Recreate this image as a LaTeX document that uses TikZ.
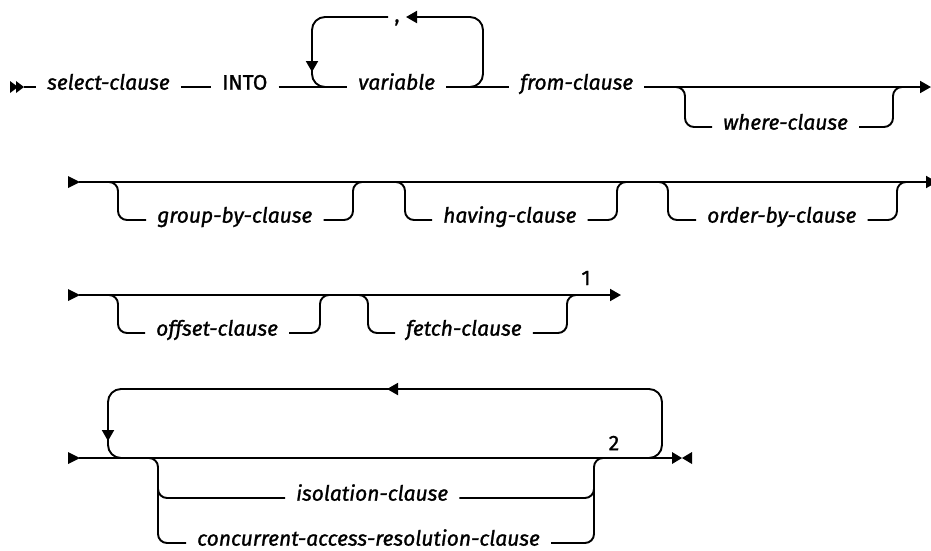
\documentclass[tikz,border=0pt]{standalone}
\usepackage{fontspec}
\setmainfont{Fira Sans}
\newfontfamily\railfont{Fira Sans}[FakeBold=1.2]
\usetikzlibrary{arrows.meta}
\begin{document}
\begin{tikzpicture}[x=1pt,y=-1pt,
  rail/.style={line width=1.9pt, rounded corners=9pt},
  loop/.style={line width=1.9pt, rounded corners=13pt},
  tip/.style={-{Triangle[length=11pt,width=12pt]}},
  lbl/.style={font=\railfont\fontsize{21}{22}\selectfont\itshape, inner xsep=11pt, inner ysep=0pt, anchor=mid west},
  kw/.style={font=\railfont\fontsize{21}{22}\selectfont, inner xsep=11pt, inner ysep=0pt, anchor=mid west},
  note/.style={font=\railfont\fontsize{21}{22}\selectfont, inner sep=0pt}
]
\useasboundingbox (0,0) rectangle (931,550);

% ---------- row 1 ----------
\fill (10,81) -- (18,87) -- (10,93) -- cycle;
\fill (16,81) -- (24,87) -- (16,93) -- cycle;
\coordinate (r1s) at (24,87);
\coordinate (r1e) at (931,87);
\node[lbl] (sel) at (36,87) {select-clause};
\node[kw] (into) at (211,87) {INTO};
\node[lbl] (var) at (347,87) {variable};
\node[lbl] (from) at (509,87) {from-clause};
\node[lbl] (where) at (712,127) {where-clause};
\node[note, anchor=base] (comma) at (397,22) {,};
\draw[rail] (r1s) -- (sel.mid west);
\draw[rail] (sel.mid east) -- (into.mid west);
\draw[rail] (into.mid east) -- (var.mid west);
\draw[rail] (var.mid east) -- (from.mid west);
\draw[rail,tip] (from.mid east) -- (r1e);
% repeat loop
\draw[loop,tip] (465,87) -- (483,87) -- (483,17) -- (406,17);
\draw[loop,tip] (388,17) -- (312,17) -- (312,72);
\draw[loop] (312,66) -- (312,87) -- (330,87);
% optional where
\draw[rail] (675,87) -| (685,127) -- (where.mid west);
\draw[rail] (where.mid east) -| (893,87) -- (903,87);

% ---------- row 2 ----------
\fill (68,176) -- (80,182) -- (68,188) -- cycle;
\coordinate (r2s) at (79,182);
\coordinate (r2e) at (937,182);
\draw[rail,tip] (r2s) -- (r2e);
\node[lbl] (grp) at (146,220) {group-by-clause};
\node[lbl] (hav) at (432,220) {having-clause};
\node[lbl] (ord) at (696,220) {order-by-clause};
\draw[rail] (108,182) -| (118,220) -- (grp.mid west);
\draw[rail] (grp.mid east) -| (353,182) -- (363,182);
\draw[rail] (395,182) -| (405,220) -- (hav.mid west);
\draw[rail] (hav.mid east) -| (617,182) -- (627,182);
\draw[rail] (658,182) -| (668,220) -- (ord.mid west);
\draw[rail] (ord.mid east) -| (897,182) -- (907,182);

% ---------- row 3 ----------
\fill (68,289) -- (80,295) -- (68,301) -- cycle;
\coordinate (r3s) at (79,295);
\coordinate (r3e) at (621,295);
\draw[rail,tip] (r3s) -- (r3e);
\node[lbl] (off) at (145,333) {offset-clause};
\node[lbl] (fet) at (395,333) {fetch-clause};
\draw[rail] (108,295) -| (118,333) -- (off.mid west);
\draw[rail] (off.mid east) -| (320,295) -- (330,295);
\draw[rail] (358,295) -| (368,333) -- (fet.mid west);
\draw[rail] (fet.mid east) -| (567,295) -- (577,295);
\node[note] (n1) at (586,278) {1};

% ---------- row 4 ----------
\fill (68,452) -- (80,458) -- (68,464) -- cycle;
\coordinate (r4s) at (79,458);
\coordinate (r4e) at (672,458);
\draw[rail] (r4s) -- (r4e);
\fill (672,452) -- (682,458) -- (672,464) -- cycle;
\fill (692,452) -- (682,458) -- (692,464) -- cycle;
% repeat loop
\draw[loop,tip] (645,458) -- (662,458) -- (662,389) -- (387,389);
\draw[loop,tip] (390,389) -- (108,389) -- (108,441);
\draw[loop] (108,435) -- (108,458) -- (125,458);
% choice
\node[lbl] (iso) at (285,498) {isolation-clause};
\node[lbl] (conc) at (186,543) {concurrent-access-resolution-clause};
\draw[rail] (148,458) -| (158,543) -- (conc.mid west);
\draw[rail] (158,475) |- (iso.mid west);
\draw[rail] (conc.mid east) -| (594,458) -- (604,458);
\draw[rail] (iso.mid east) -| (594,480);
\node[note] (n2) at (614,443) {2};
\end{tikzpicture}
\end{document}
